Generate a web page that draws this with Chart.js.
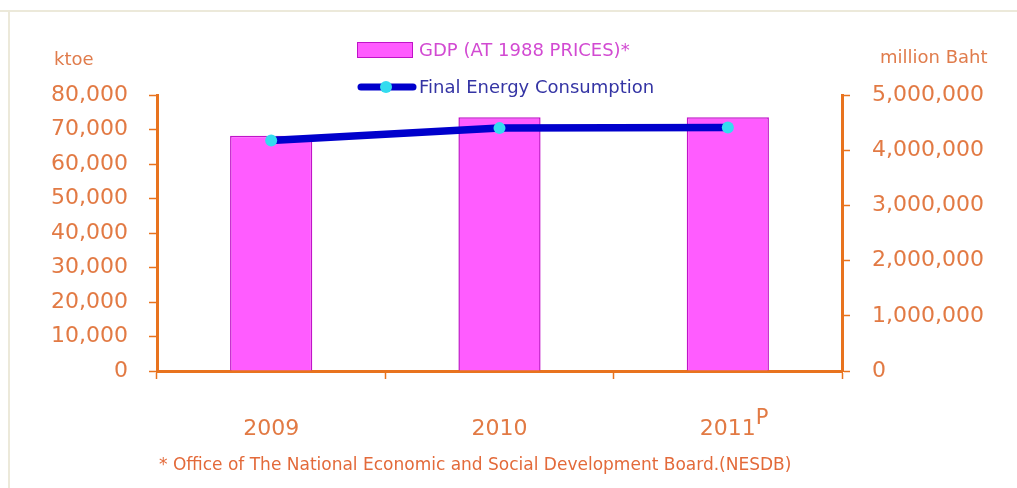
<!DOCTYPE html>
<html>
<head>
<meta charset="utf-8">
<script src="https://cdn.jsdelivr.net/npm/chart.js@4"></script>
<style>
  html, body { margin: 0; padding: 0; background: #fff; }
  canvas { display: block; }
</style>
</head>
<body>
<canvas id="chart" width="1017" height="488"></canvas>
<script>
// years on the x axis
var years = ['2009', '2010', '2011'];
// GDP at 1988 prices, million Baht (right axis)
var gdp = [4263000, 4596000, 4599000];
// final energy consumption, ktoe (left axis)
var energy = [66800, 70400, 70600];
// labels for the legend
var gdpLabel = 'GDP (AT 1988 PRICES)*';
var energyLabel = 'Final Energy Consumption';

var orange = '#e8731e';
var tickColor = '#e27a44';
var font = 'DejaVu Sans';

function fmt(v) {
    return v.toLocaleString('en-US');
}

// background frame, axis titles, the superscript P and the footnote
var decorations = {
    id: 'decorations',
    beforeDraw: function(chart) {
        var ctx = chart.ctx;
        ctx.save();
        ctx.fillStyle = '#fff';
        ctx.fillRect(0, 0, chart.width, chart.height);
        ctx.strokeStyle = '#ece9da';
        ctx.lineWidth = 2;
        ctx.beginPath();
        ctx.moveTo(0, 11); ctx.lineTo(chart.width, 11);
        ctx.moveTo(9, 11); ctx.lineTo(9, chart.height);
        ctx.stroke();
        ctx.restore();
    },
    afterDraw: function(chart) {
        var ctx = chart.ctx;
        ctx.save();
        ctx.fillStyle = '#e07c4c';
        ctx.font = '18px "' + font + '"';
        ctx.textBaseline = 'middle';
        ctx.textAlign = 'left';
        ctx.fillText('ktoe', 54, 60);
        ctx.fillText('million Baht', 880, 58);

        // "P" for preliminary on the last year
        var x = chart.scales.x.getPixelForValue(2);
        ctx.fillStyle = tickColor;
        ctx.font = '21px "' + font + '"';
        ctx.fillText('P', x + 28, 419);

        ctx.font = '17px "' + font + '"';
        ctx.fillStyle = '#e36a3a';
        ctx.fillText('* Office of The National Economic and Social Development Board.(NESDB)', 159, 466);

        // legend
        var gds = chart.data.datasets[1];
        var lds = chart.data.datasets[0];
        ctx.fillStyle = gds.backgroundColor;
        ctx.strokeStyle = gds.borderColor;
        ctx.lineWidth = 1;
        ctx.fillRect(357, 42, 56, 16);
        ctx.strokeRect(357.5, 42.5, 55, 15);
        ctx.font = '18px "' + font + '"';
        ctx.fillStyle = '#d24ad2';
        ctx.fillText(gds.label, 419, 51);

        ctx.strokeStyle = lds.borderColor;
        ctx.lineWidth = 7;
        ctx.lineCap = 'round';
        ctx.beginPath();
        ctx.moveTo(361, 87); ctx.lineTo(413, 87);
        ctx.stroke();
        ctx.fillStyle = lds.pointBackgroundColor;
        ctx.beginPath();
        ctx.arc(386, 87, 6, 0, Math.PI * 2);
        ctx.fill();
        ctx.fillStyle = '#3434a4';
        ctx.fillText(lds.label, 419, 88);
        ctx.restore();
    }
};

new Chart(document.getElementById('chart'), {
    data: {
        labels: years,
        datasets: [{
            type: 'line',
            label: energyLabel,
            data: energy,
            yAxisID: 'y',
            borderColor: '#0000cc',
            borderWidth: 7.5,
            pointBackgroundColor: '#33dcef',
            pointBorderColor: '#33dcef',
            pointRadius: 6,
            pointBorderWidth: 0,
            tension: 0,
            order: 0
        }, {
            type: 'bar',
            label: gdpLabel,
            data: gdp,
            yAxisID: 'y1',
            backgroundColor: '#ff5cff',
            borderColor: '#c014c8',
            borderWidth: 1.5,
            categoryPercentage: 1,
            barPercentage: 0.36,
            order: 1
        }]
    },
    options: {
        responsive: false,
        animation: false,
        layout: { padding: { top: 95, left: 0, right: 0, bottom: 0 } },
        plugins: {
            legend: { display: false },
            tooltip: { enabled: false }
        },
        scales: {
            x: {
                offset: true,
                grid: { offset: true, drawOnChartArea: false, color: orange, tickLength: 8, tickWidth: 1.5 },
                border: { color: orange, width: 3 },
                ticks: { color: tickColor, font: { family: font, size: 22 }, padding: 37 },
                afterFit: function(s) { s.height = 488 - 371; }
            },
            y: {
                position: 'left',
                min: 0, max: 80000,
                grid: { drawOnChartArea: false, color: orange, tickLength: 8, tickWidth: 1.5 },
                border: { color: orange, width: 3 },
                ticks: { stepSize: 10000, color: tickColor, font: { family: font, size: 22 }, padding: 21, callback: fmt },
                afterFit: function(s) { s.width = 157; }
            },
            y1: {
                position: 'right',
                min: 0, max: 5000000,
                grid: { drawOnChartArea: false, color: orange, tickLength: 8, tickWidth: 1.5 },
                border: { color: orange, width: 3 },
                ticks: { stepSize: 1000000, color: tickColor, font: { family: font, size: 22 }, padding: 22, callback: fmt },
                afterFit: function(s) { s.width = 1017 - 842; }
            }
        }
    },
    plugins: [decorations]
});
</script>
</body>
</html>
